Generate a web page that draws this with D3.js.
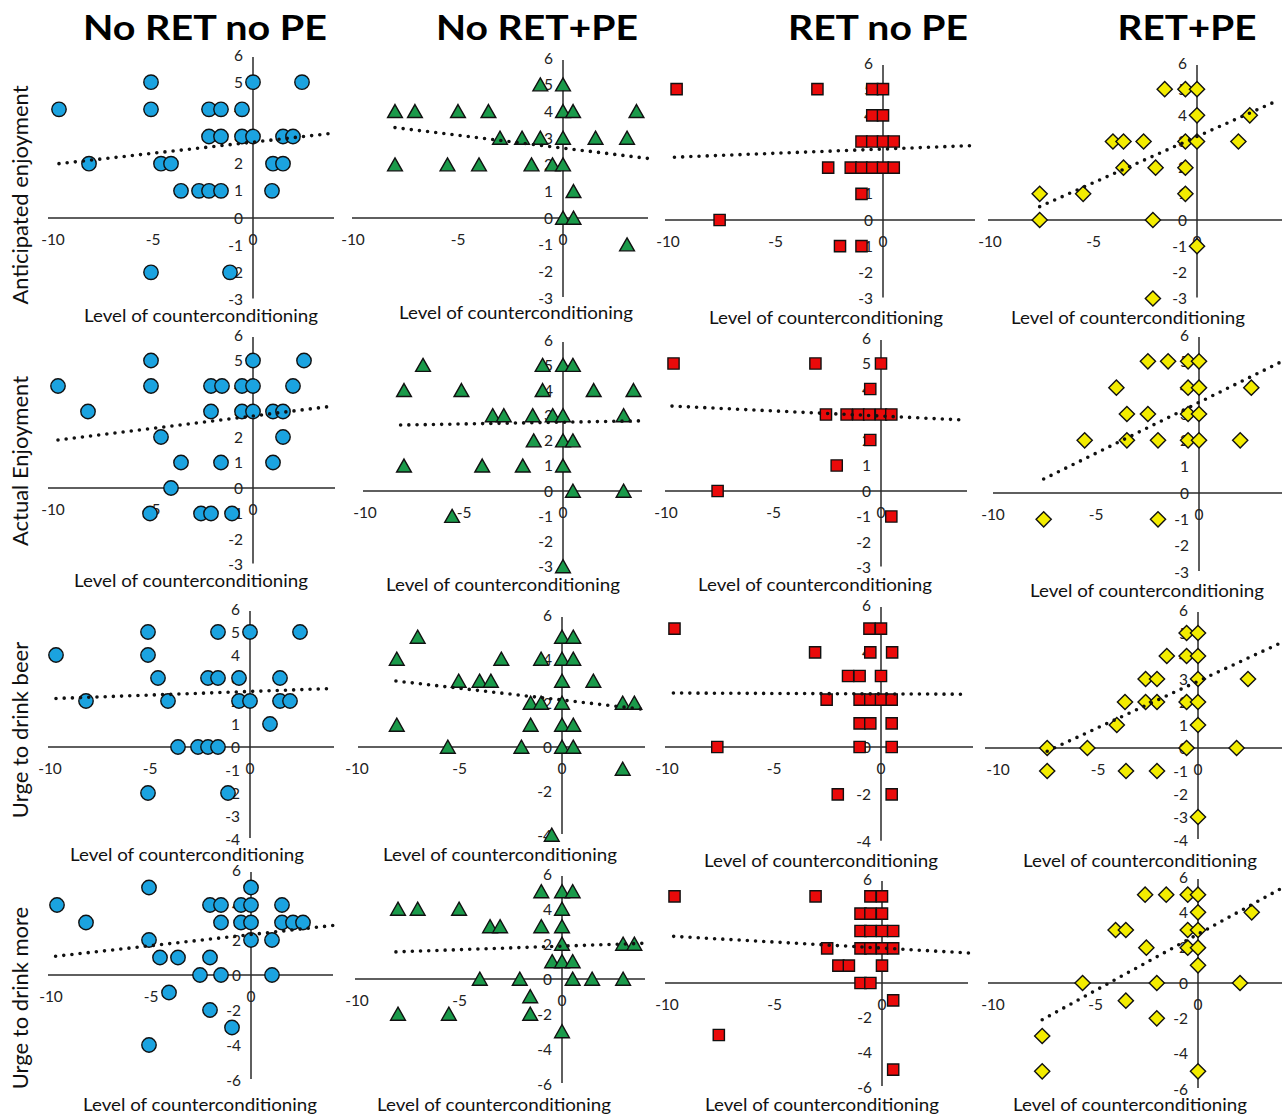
<!DOCTYPE html>
<html><head><meta charset="utf-8">
<script src="https://cdn.jsdelivr.net/npm/d3@7"></script>
<style>body{margin:0;background:#fff}svg{display:block}</style>
</head><body>
<svg id="chart" width="1282" height="1117"></svg>
<script>
// ---------- text ----------
const columnTitles = ["No RET no PE", "No RET+PE", "RET no PE", "RET+PE"];
const rowTitles = ["Anticipated enjoyment", "Actual Enjoyment", "Urge to drink beer", "Urge to drink more"];
const xAxisTitle = "Level of counterconditioning";

// ---------- tick labels ----------
const xTickValues = [-10, -5, 0];
const yTicksRow12 = [6, 5, 4, 3, 2, 1, 0, -1, -2, -3];
const yTicksRow3Full = [6, 5, 4, 3, 2, 1, 0, -1, -2, -3, -4];
const yTicksRow3Even = [6, 4, 2, 0, -2, -4];
const yTicksRow4 = [6, 4, 2, 0, -2, -4, -6];

// ---------- data: [level of counterconditioning, rating] ----------
// Anticipated enjoyment
const anticipated_noRetNoPE = [[-5.1,5],[0,5],[2.45,5],[-9.7,4],[-5.1,4],[-2.2,4],[-1.6,4],[-0.55,4],
  [-2.2,3],[-1.6,3],[-0.55,3],[0,3],[1.5,3],[2.0,3],[-8.2,2],[-4.6,2],[-4.1,2],[1.0,2],[1.5,2],
  [-3.6,1],[-2.7,1],[-2.2,1],[-1.6,1],[0.95,1],[-5.1,-2],[-1.15,-2]];
const anticipated_noRetPE = [[-1.08,5],[0,5],[-8.0,4],[-7.05,4],[-5.0,4],[-3.55,4],[0,4],[0.48,4],[3.5,4],
  [-3.0,3],[-1.95,3],[-1.08,3],[0,3],[1.55,3],[3.05,3],[-8.0,2],[-5.5,2],[-4.0,2],[-1.5,2],[-0.5,2],[0,2],
  [0.5,1],[0,0],[0.5,0],[3.05,-1]];
const anticipated_retNoPE = [[-9.6,5],[-3.05,5],[-0.5,5],[0,5],[-0.5,4],[0,4],[-1.0,3],[-0.5,3],[0,3],[0.5,3],
  [-2.55,2],[-1.5,2],[-1.0,2],[-0.5,2],[0,2],[0.5,2],[-1.0,1],[-7.6,0],[-2.0,-1],[-1.0,-1]];
const anticipated_retPE = [[-1.56,5],[-0.56,5],[0,5],[0,4],[2.55,4],[-4.06,3],[-3.55,3],[-2.58,3],[-0.56,3],[0,3],[2.0,3],
  [-3.55,2],[-2.0,2],[-0.56,2],[-7.6,1],[-5.5,1],[-0.56,1],[-7.6,0],[-2.13,0],[0,-1],[-2.13,-3]];
// Actual enjoyment
const actual_noRetNoPE = [[-5.1,5],[0,5],[2.55,5],[-9.75,4],[-5.1,4],[-2.1,4],[-1.55,4],[-0.55,4],[0,4],[2.0,4],
  [-8.25,3],[-2.1,3],[-0.55,3],[0,3],[1.0,3],[1.5,3],[-4.6,2],[1.5,2],[-3.6,1],[-1.6,1],[1.0,1],[-4.1,0],
  [-5.15,-1],[-2.6,-1],[-2.1,-1],[-1.05,-1]];
const actual_noRetPE = [[-7.07,5],[-1.03,5],[0,5],[0.5,5],[-8.03,4],[-5.13,4],[-1.03,4],[1.55,4],[3.56,4],
  [-3.55,3],[-2.99,3],[-1.53,3],[-0.52,3],[0,3],[3.06,3],[-1.48,2],[0,2],[0.5,2],
  [-8.03,1],[-4.08,1],[-2.03,1],[0,1],[0.5,0],[3.06,0],[-5.6,-1],[0,-3]];
const actual_retNoPE = [[-9.65,5],[-3.05,5],[0,5],[-0.5,4],[-2.56,3],[-1.6,3],[-1.05,3],[-0.55,3],[0,3],[0.48,3],
  [-0.5,2],[-2.06,1],[-7.6,0],[0.48,-1]];
const actual_retPE = [[-2.48,5],[-1.5,5],[-0.53,5],[0,5],[-4.01,4],[-0.53,4],[0,4],[2.54,4],
  [-3.5,3],[-2.48,3],[-0.53,3],[0,3],[-5.55,2],[-3.5,2],[-1.99,2],[-0.53,2],[0,2],[2.0,2],[-7.54,-1],[-1.99,-1]];
// Urge to drink beer
const beer_noRetNoPE = [[-5.1,5],[-1.6,5],[0,5],[2.5,5],[-9.7,4],[-5.1,4],[-4.6,3],[-2.1,3],[-1.6,3],[-0.55,3],[1.5,3],
  [-8.2,2],[-4.1,2],[-0.55,2],[0,2],[1.5,2],[2.0,2],[1.0,1],[-3.6,0],[-2.6,0],[-2.1,0],[-1.6,0],[-5.1,-2],[-1.1,-2]];
const beer_noRetPE = [[-7.04,5],[0,5],[0.55,5],[-8.06,4],[-2.96,4],[-1.02,4],[0,4],[0.55,4],
  [-5.04,3],[-4.02,3],[-3.47,3],[0,3],[1.53,3],[-1.53,2],[-1.02,2],[0,2],[2.96,2],[3.53,2],
  [-8.06,1],[-1.53,1],[0,1],[0.55,1],[-5.57,0],[-1.98,0],[0,0],[0.55,0],[2.96,-1],[-0.5,-4]];
const beer_retNoPE = [[-9.65,5],[-0.54,5],[0,5],[-3.08,4],[-0.5,4],[0.52,4],[-1.54,3],[-1.0,3],[0,3],
  [-2.54,2],[-1.0,2],[-0.5,2],[0,2],[0.5,2],[-1.0,1],[-0.5,1],[0.5,1],[-7.65,0],[-1.0,0],[0.5,0],[-2.02,-2],[0.5,-2]];
const beer_retPE = [[-0.57,5],[0,5],[-1.56,4],[-0.57,4],[0,4],[-2.62,3],[-2.05,3],[0,3],[2.5,3],
  [-3.65,2],[-2.62,2],[-2.05,2],[-0.57,2],[0,2],[-4.06,1],[0,1],[-7.54,0],[-5.53,0],[-0.57,0],[1.93,0],
  [-7.54,-1],[-3.6,-1],[-2.05,-1],[0,-3]];
// Urge to drink more
const more_noRetNoPE = [[-5.1,5],[0,5],[-9.7,4],[-2.05,4],[-1.5,4],[-0.5,4],[0,4],[1.55,4],
  [-8.25,3],[-1.5,3],[-0.5,3],[0,3],[1.55,3],[2.1,3],[2.6,3],[-5.1,2],[0,2],[1.05,2],
  [-4.55,1],[-3.65,1],[-2.05,1],[-2.55,0],[-1.5,0],[1.05,0],[-4.1,-1],[-2.05,-2],[-0.95,-3],[-5.1,-4]];
const more_noRetPE = [[-1.01,5],[0,5],[0.52,5],[-8.0,4],[-7.04,4],[-5.02,4],[0,4],[-3.51,3],[-3.02,3],[-1.01,3],[0,3],
  [0,2],[2.98,2],[3.53,2],[-0.48,1],[0,1],[0.52,1],[-4.01,0],[-2.06,0],[0.52,0],[1.47,0],[2.98,0],
  [-1.55,-1],[-8.0,-2],[-5.52,-2],[-1.55,-2],[0,-3]];
const more_retNoPE = [[-9.65,5],[-3.09,5],[-0.54,5],[0,5],[-1.0,4],[-0.54,4],[0,4],[-1.0,3],[-0.54,3],[0,3],[0.52,3],
  [-2.55,2],[-1.0,2],[-0.54,2],[0,2],[0.52,2],[-2.03,1],[-1.54,1],[0,1],[-1.0,0],[-0.54,0],[0.52,-1],[-7.59,-3],[0.52,-5]];
const more_retPE = [[-2.58,5],[-1.55,5],[-0.5,5],[0,5],[0,4],[2.62,4],[-4.02,3],[-3.52,3],[-0.5,3],[0,3],
  [-2.52,2],[-0.5,2],[0,2],[0,1],[-5.63,0],[-2.01,0],[2.05,0],[-3.52,-1],[-2.01,-2],[-7.6,-3],[-7.6,-5],[0,-5]];

// ---------- fitted trend lines: [[x start, y start], [x end, y end]] ----------
const trend_anticipated = [[[-9.7,2.0],[4.0,3.12]], [[-8.0,3.39],[4.08,2.23]], [[-9.7,2.4],[4.03,2.84]], [[-7.6,0.51],[3.8,4.53]]];
const trend_actual = [[[-9.75,1.88],[4.08,3.22]], [[-8.2,2.62],[4.07,2.79]], [[-9.72,3.33],[3.95,2.78]], [[-7.54,0.53],[4.01,4.99]]];
const trend_beer = [[[-9.7,2.11],[4.0,2.54]], [[-8.1,3.0],[3.98,1.71]], [[-9.7,2.28],[4.04,2.23]], [[-7.54,-0.14],[4.04,4.53]]];
const trend_more = [[[-9.77,1.07],[4.17,2.84]], [[-8.1,1.55],[3.99,2.04]], [[-9.69,2.69],[4.05,1.73]], [[-7.6,-2.08],[4.12,5.39]]];

// ---------- assemble ----------
const rowData = [
  [anticipated_noRetNoPE, anticipated_noRetPE, anticipated_retNoPE, anticipated_retPE],
  [actual_noRetNoPE, actual_noRetPE, actual_retNoPE, actual_retPE],
  [beer_noRetNoPE, beer_noRetPE, beer_retNoPE, beer_retPE],
  [more_noRetNoPE, more_noRetPE, more_retNoPE, more_retPE]
];
const rowTrends = [trend_anticipated, trend_actual, trend_beer, trend_more];
const rowTicks = [
  [yTicksRow12, yTicksRow12, yTicksRow12, yTicksRow12],
  [yTicksRow12, yTicksRow12, yTicksRow12, yTicksRow12],
  [yTicksRow3Full, yTicksRow3Even, yTicksRow3Even, yTicksRow3Full],
  [yTicksRow4, yTicksRow4, yTicksRow4, yTicksRow4]
];

// layout (pixels): x of -10, x of 0, y of 6, y of 0, axis left px, axis right px, title centre x, title baseline y
const layout = [
  [[53,253,55,218,48,334,201,322],[353,563,58,218,352,648,516,319],[668,883,63,220,665,975,826,324],[990,1197,63,220,988,1282,1128,324]],
  [[53,253,335,488,48,335,191,587],[365,563,340,491,363,642,503,591],[666,881,338,491,665,967,815,591],[993,1199,335,493,993,1282,1147,597]],
  [[50,250,609,747,48,334,187,861],[357,562,615,747,358,645,500,861],[667,881,605,747,665,973,821,867],[998,1198,610,748,985,1282,1140,867]],
  [[51,251,870,975,48,333,200,1111],[357,562,874,979,355,645,494,1111],[667,882,879,983,665,968,822,1111],[993,1198,877,983,988,1282,1130,1111]]
];
const titleCenters = [205, 537, 878, 1187];
const titleWidths = [244, 202, 180, 139];
const rowLabelCenters = [195, 461, 730, 998];

const colFills = ["#1ba3e0", "#1a9a4a", "#ea0a0a", "#f3ec00"];
const font = "Lato, 'Open Sans', sans-serif";
const svg = d3.select("#chart");

// column titles
svg.selectAll("text.coltitle").data(columnTitles).join("text")
  .attr("class", "coltitle")
  .attr("x", (d, i) => titleCenters[i]).attr("y", 40)
  .attr("text-anchor", "middle")
  .attr("font-family", font).attr("font-weight", 700).attr("font-size", 34)
  .attr("textLength", (d, i) => titleWidths[i]).attr("lengthAdjust", "spacingAndGlyphs")
  .attr("fill", "#000").text(d => d);

// row titles
svg.selectAll("text.rowtitle").data(rowTitles).join("text")
  .attr("class", "rowtitle")
  .attr("transform", (d, i) => `translate(28,${rowLabelCenters[i]}) rotate(-90)`)
  .attr("text-anchor", "middle")
  .attr("font-family", font).attr("font-size", 22).attr("fill", "#111")
  .text(d => d);

function markerPath(col) {
  if (col === 1) return "M0,-6.8L7.4,6.2L-7.4,6.2Z";
  if (col === 2) return "M-5.6,-5.6H5.6V5.6H-5.6Z";
  return "M0,-7.6L7.6,0L0,7.6L-7.6,0Z";
}

rowData.forEach((cols, r) => {
  cols.forEach((pts, c) => {
    const L = layout[r][c];
    const ticks = rowTicks[r][c];
    const x = d3.scaleLinear().domain([-10, 0]).range([L[0], L[1]]);
    const y = d3.scaleLinear().domain([0, 6]).range([L[3], L[2]]);
    const yMin = d3.min(ticks), yMax = d3.max(ticks);
    const g = svg.append("g");

    // axes through origin
    g.append("line").attr("x1", L[4]).attr("x2", L[5]).attr("y1", y(0)).attr("y2", y(0))
      .attr("stroke", "#2a2a2a").attr("stroke-width", 1.5);
    g.append("line").attr("x1", x(0)).attr("x2", x(0)).attr("y1", y(yMax) + 2).attr("y2", y(yMin) - 1)
      .attr("stroke", "#2a2a2a").attr("stroke-width", 1.5);

    // y tick labels
    g.selectAll("text.yt").data(ticks).join("text").attr("class", "yt")
      .attr("x", x(0) - 10).attr("y", d => y(d) + 5.5)
      .attr("text-anchor", "end").attr("font-family", font).attr("font-size", 15.5).attr("fill", "#222")
      .text(d => d);
    // x tick labels
    g.selectAll("text.xt").data(xTickValues).join("text").attr("class", "xt")
      .attr("x", d => x(d)).attr("y", y(0) + 27)
      .attr("text-anchor", "middle").attr("font-family", font).attr("font-size", 15.5).attr("fill", "#222")
      .text(d => d);
    // x axis title
    g.append("text").attr("x", L[6]).attr("y", L[7]).attr("text-anchor", "middle")
      .attr("font-family", font).attr("font-size", 17).attr("fill", "#111")
      .attr("textLength", 234).attr("lengthAdjust", "spacingAndGlyphs")
      .text(xAxisTitle);

    // markers
    if (c === 0) {
      g.selectAll("circle.pt").data(pts).join("circle").attr("class", "pt")
        .attr("cx", d => x(d[0])).attr("cy", d => y(d[1])).attr("r", 7.2)
        .attr("fill", colFills[c]).attr("stroke", "#111").attr("stroke-width", 1.4);
    } else {
      g.selectAll("path.pt").data(pts).join("path").attr("class", "pt")
        .attr("transform", d => `translate(${x(d[0])},${y(d[1])})`)
        .attr("d", markerPath(c))
        .attr("fill", colFills[c]).attr("stroke", "#111").attr("stroke-width", 1.4)
        .attr("stroke-linejoin", "miter");
    }

    // dotted trend line
    const tr = rowTrends[r][c];
    g.append("path").datum(tr)
      .attr("d", d3.line().x(d => x(d[0])).y(d => y(d[1])))
      .attr("fill", "none").attr("stroke", "#111").attr("stroke-width", 3.6)
      .attr("stroke-linecap", "round").attr("stroke-dasharray", "0 8.2");
  });
});
</script>
</body></html>
